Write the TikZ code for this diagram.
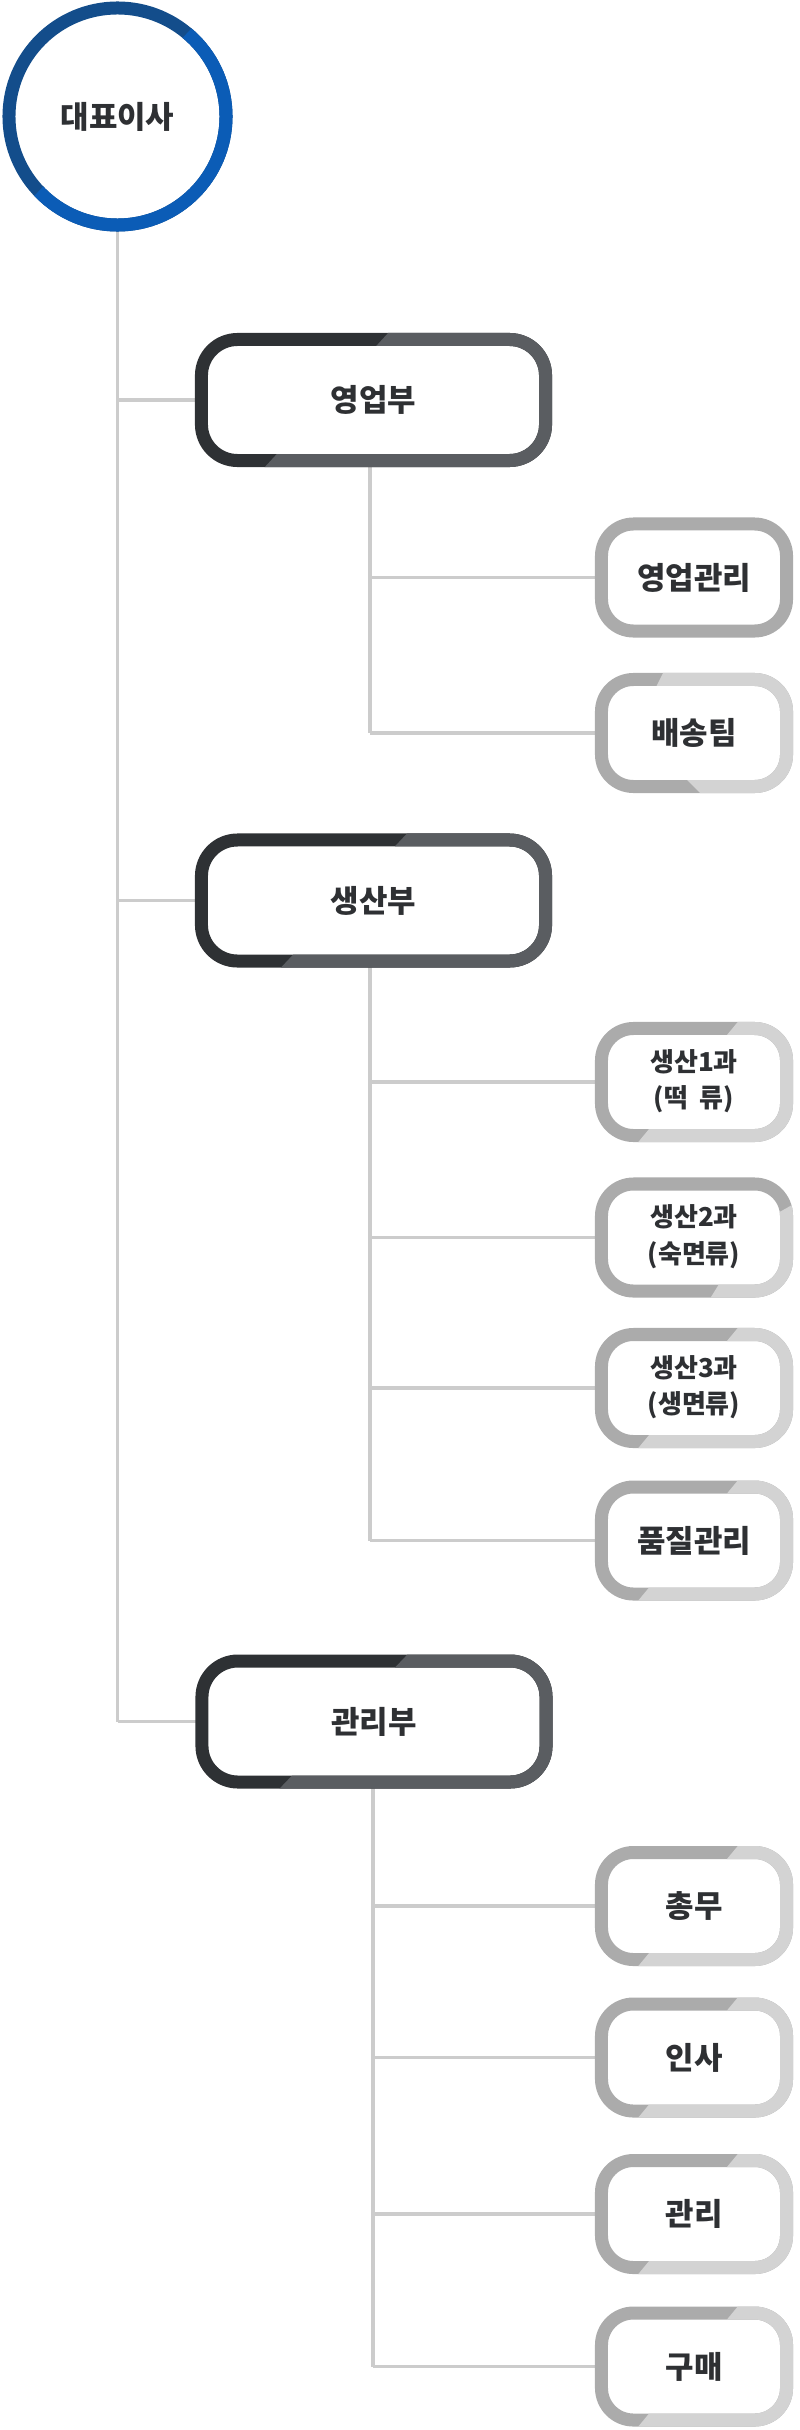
\documentclass[tikz,border=0pt]{standalone}
\usepackage{fontspec}
\setmainfont{Noto Sans CJK KR}
\usepackage{xcolor}
\usepackage{tikz}
\usetikzlibrary{positioning, backgrounds}

\definecolor{ceoDark}{HTML}{134D8B}
\definecolor{ceoLight}{HTML}{0B5CB6}
\definecolor{deptDark}{HTML}{2E3134}
\definecolor{deptLight}{HTML}{5A5D61}
\definecolor{teamDark}{HTML}{ABABAB}
\definecolor{teamLight}{HTML}{D3D3D3}
\definecolor{linkGray}{HTML}{CCCCCC}
\definecolor{inkGray}{HTML}{2E3033}

\begin{document}
\begin{tikzpicture}[
  x=0.025cm, y=-0.025cm,
  ceo/.style={circle, draw=ceoDark, fill=white, line width=0.325cm,
              minimum size=5.425cm, inner sep=0pt, outer sep=0pt,
              font=\fontsize{22}{26}\selectfont\bfseries, text=inkGray},
  dept/.style={rectangle, draw=deptDark, fill=white, rounded corners=0.9cm,
               line width=0.325cm, minimum width=8.6cm, minimum height=3.025cm,
               inner sep=0pt, outer sep=0pt,
               font=\fontsize{22}{26}\selectfont\bfseries, text=inkGray},
  team/.style={rectangle, draw=teamDark, fill=white, rounded corners=0.8cm,
               line width=0.325cm, minimum width=4.625cm, minimum height=2.675cm,
               inner sep=0pt, outer sep=0pt, align=center,
               font=\fontsize{22}{26}\selectfont\bfseries, text=inkGray},
  link/.style={draw=linkGray, line width=2.5pt},
  deptedge/.style={draw=deptLight, line width=0.325cm, rounded corners=0.9cm},
  teamedge/.style={draw=teamLight, line width=0.325cm, rounded corners=0.8cm}
]
  \useasboundingbox (0,0) rectangle (800,2430);

  \node[ceo]  (ceo)   at (117.5,116.5) {대표이사};

  \node[dept] (sales) at (373.5,400)   {영업부};
  \node[dept] (prod)  at (373.5,900.5) {생산부};
  \node[dept] (admin) at (374,1721.5)  {관리부};

  \node[team] (salesMgmt) at (694,577.5)  {영업관리};
  \node[team] (delivery)  at (694,733)    {배송팀};
  \node[team] (prod1)     at (694,1082)   {\begin{tabular}{@{}c@{}}\fontsize{18.5}{21}\selectfont 생산1과\\\fontsize{18.5}{21}\selectfont (떡~~류)\end{tabular}};
  \node[team] (prod2)     at (694,1237.5) {\begin{tabular}{@{}c@{}}\fontsize{18.5}{21}\selectfont 생산2과\\\fontsize{18.5}{21}\selectfont (숙면류)\end{tabular}};
  \node[team] (prod3)     at (694,1388)   {\begin{tabular}{@{}c@{}}\fontsize{18.5}{21}\selectfont 생산3과\\\fontsize{18.5}{21}\selectfont (생면류)\end{tabular}};
  \node[team] (quality)   at (694,1540.5) {품질관리};
  \node[team] (general)   at (694,1906)   {총무};
  \node[team] (hr)        at (694,2057.5) {인사};
  \node[team] (mgmt)      at (694,2214)   {관리};
  \node[team] (purchase)  at (694,2366.5) {구매};

  \coordinate (salesTrunk) at ([xshift=-0.09cm]sales.south);
  \coordinate (prodTrunk)  at ([xshift=-0.09cm]prod.south);
  \coordinate (adminTrunk) at ([xshift=-0.03cm]admin.south);

  \begin{scope}[on background layer]
    \draw[link] (ceo.center) -- (ceo.center |- admin.west);
    \foreach \d in {sales, prod, admin}
      \draw[link] (ceo.center |- \d.west) -- (\d.west);
    \draw[link] (salesTrunk) -- (salesTrunk |- delivery.west);
    \draw[link] (prodTrunk) -- (prodTrunk |- quality.west);
    \draw[link] (adminTrunk) -- (adminTrunk |- purchase.west);
    \foreach \t in {salesMgmt, delivery}
      \draw[link] (salesTrunk |- \t.west) -- (\t.west);
    \foreach \t in {prod1, prod2, prod3, quality}
      \draw[link] (prodTrunk |- \t.west) -- (\t.west);
    \foreach \t in {general, hr, mgmt, purchase}
      \draw[link] (adminTrunk |- \t.west) -- (\t.west);
  \end{scope}

  \begin{scope}
    \clip (236,-19) -- (260,-19) -- (260,260) -- (-6.5,260) -- (-6.5,239.4) -- cycle;
    \draw[ceoLight, line width=0.325cm] (ceo.center) circle[radius=2.7125cm];
  \end{scope}

  \foreach \n/\a/\b in {sales/22/-116, prod/41/-100, admin/41/-102} {
    \begin{scope}[shift={(\n.center)}]
      \clip (\a,-75) -- (200,-75) -- (200,75) -- (\b,75) -- cycle;
      \draw[deptedge] (\n.south west) rectangle (\n.north east);
    \end{scope}
  }

  \foreach \n in {prod1, prod3, quality, general, hr, mgmt, purchase} {
    \begin{scope}[shift={(\n.center)}]
      \clip (52,-70) -- (120,-70) -- (120,70) -- (-64,70) -- cycle;
      \draw[teamedge] (\n.south west) rectangle (\n.north east);
    \end{scope}
  }

  \begin{scope}[shift={(delivery.center)}]
    \clip (-27,-68) -- (116,-68) -- (116,77) -- (23,77) -- (-19,35) -- (-42,-38) -- cycle;
    \draw[teamedge] (delivery.south west) rectangle (delivery.north east);
  \end{scope}

  \begin{scope}[shift={(prod2.center)}]
    \clip (114,-41.5) -- (114,72.5) -- (9,72.5) -- (46,12.5) -- (82,-23.5) -- cycle;
    \draw[teamedge] (prod2.south west) rectangle (prod2.north east);
  \end{scope}
\end{tikzpicture}
\end{document}
